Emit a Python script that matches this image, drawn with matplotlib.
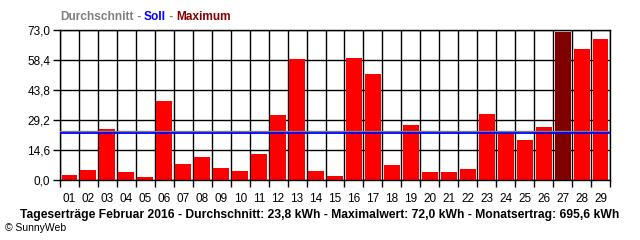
import matplotlib.pyplot as plt
import numpy as np

days = ["01", "02", "03", "04", "05", "06", "07", "08", "09", "10",
        "11", "12", "13", "14", "15", "16", "17", "18", "19", "20",
        "21", "22", "23", "24", "25", "26", "27", "28", "29"]
yields = [2.6, 5.0, 25.0, 3.7, 1.6, 38.6, 7.9, 11.2, 5.8, 4.4,
          12.8, 31.6, 58.9, 4.4, 1.9, 59.4, 51.6, 7.3, 26.8, 4.0,
          4.0, 5.5, 32.1, 22.9, 19.6, 25.9, 72.0, 63.7, 68.6]
average = 23.8
target = 23.1
y_max = 73.0
y_ticks = [0.0, 14.6, 29.2, 43.8, 58.4, 73.0]

plt.rcParams['font.family'] = ['Liberation Sans', 'DejaVu Sans']

fig = plt.figure(figsize=(6.4, 2.4), dpi=100)
ax = fig.add_axes([60 / 640, 1 - 180 / 240, 550 / 640, 150 / 240])

n = len(days)
x = np.arange(n)
max_idx = int(np.argmax(yields))
colors = ['#800000' if i == max_idx else '#ff0000' for i in range(n)]
ax.bar(x, yields, width=0.84, color=colors, zorder=2)

# average / target lines
ax.axhline(average, color='#808080', lw=1.0, zorder=3)
ax.axhline(target, color='#0000ff', lw=1.3, zorder=3)

ax.set_xlim(-0.5, n - 0.5)
ax.set_ylim(0, y_max)

# grid
for b in np.arange(n + 1) - 0.5:
    ax.axvline(b, color='black', lw=1.0, zorder=1)
for t in y_ticks:
    ax.axhline(t, color='black', lw=1.0, zorder=1)

for s in ax.spines.values():
    s.set_color('black')
    s.set_linewidth(1.0)

ax.set_yticks(y_ticks)
ax.set_yticklabels([f"{t:.1f}".replace('.', ',') for t in y_ticks])
ax.tick_params(axis='y', length=5, width=1.0, pad=2, labelsize=8.5)

ax.set_xticks(np.arange(n + 1) - 0.5)
ax.set_xticklabels([])
ax.tick_params(axis='x', which='major', length=5, width=1.0)
ax.set_xticks(x, minor=True)
ax.set_xticklabels(days, minor=True)
ax.tick_params(axis='x', which='minor', length=0, pad=9, labelsize=8.5)

# legend header with coloured parts
parts = [("Durchschnitt", '#808080'), (" - ", '#808080'), ("Soll", '#0000ff'),
         (" - ", '#808080'), ("Maximum", '#800000')]
fig.canvas.draw()
renderer = fig.canvas.get_renderer()
xpos = 60 / 640
for txt, col in parts:
    t = fig.text(xpos, 1 - 17 / 240, txt, color=col, fontsize=8.6,
                 fontweight='bold', va='center', ha='left')
    bb = t.get_window_extent(renderer=renderer)
    xpos += bb.width / 640

fig.text(20 / 640, 1 - 215 / 240,
         "Tageserträge Februar 2016 - Durchschnitt: 23,8 kWh - Maximalwert: 72,0 kWh"
         " - Monatsertrag: 695,6 kWh",
         fontsize=8.75, fontweight='bold', va='center', ha='left')
fig.text(5 / 640, 1 - 228 / 240, "© SunnyWeb", fontsize=7.5, va='center', ha='left')

fig.savefig("out.png", dpi=100)
